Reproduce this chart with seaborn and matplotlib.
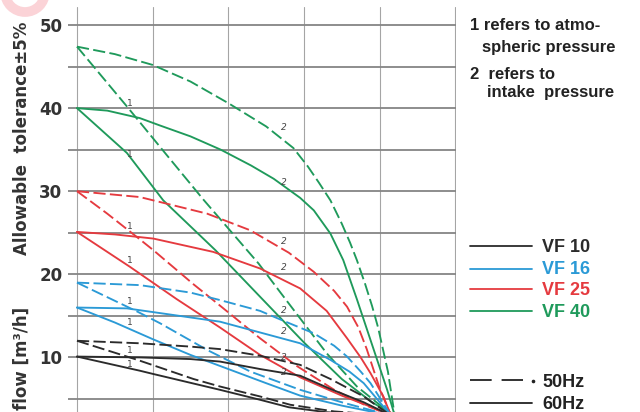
import matplotlib.pyplot as plt
import seaborn as sns
import pandas as pd
from matplotlib.lines import Line2D
from matplotlib.patches import Ellipse

# readings: x in grid columns (0..5), y = flow
# curve "1" = atmospheric, "2" = intake ; dashed = 50Hz, solid = 60Hz
vf40_50_2_x = [0, 0.5, 1.0, 1.5, 2.0, 2.5, 2.86, 3.05, 3.2, 3.35, 3.5, 3.61, 3.7, 3.81, 3.9, 3.98, 4.11, 4.2]
vf40_50_2_y = [47.4, 46.5, 45.2, 43.2, 40.6, 37.8, 35.2, 33.0, 31.0, 28.9, 26.1, 23.8, 21.7, 18.8, 16.2, 13.6, 8.3, 3.0]
vf40_60_2_x = [0, 0.4, 0.83, 1.1, 1.5, 1.9, 2.3, 2.6, 2.95, 3.13, 3.35, 3.52, 3.7, 3.92, 4.1, 4.2]
vf40_60_2_y = [40, 39.7, 38.8, 37.9, 36.6, 35.0, 33.1, 31.5, 29.2, 27.7, 24.9, 21.7, 17.0, 11.0, 6.1, 3.0]
vf40_50_1_x = [0, 0.66, 1.2, 1.67, 2.4, 2.69, 3.3, 3.7, 4.0, 4.2]
vf40_50_1_y = [47.4, 40.2, 34.2, 29.0, 21.3, 17.8, 10.5, 6.5, 4.3, 3.0]
vf40_60_1_x = [0, 0.66, 1.14, 1.83, 2.42, 3.0, 3.5, 3.9, 4.2]
vf40_60_1_y = [40, 34.6, 28.9, 22.9, 17.3, 11.8, 7.4, 4.6, 3.0]

vf25_50_2_x = [0, 0.83, 1.72, 2.29, 2.8, 3.13, 3.4, 3.57, 3.72, 3.83, 4.0, 4.15]
vf25_50_2_y = [30, 29.3, 27.3, 25.3, 22.6, 20.3, 18.0, 16.1, 13.6, 11.0, 6.3, 3.0]
vf25_60_2_x = [0, 0.5, 1.01, 1.8, 2.42, 2.95, 3.3, 3.57, 3.75, 3.88, 4.05, 4.15]
vf25_60_2_y = [25.1, 24.8, 24.3, 22.7, 20.7, 18.3, 15.6, 12.3, 10.0, 8.1, 5.3, 3.0]
vf25_50_1_x = [0, 0.4, 0.79, 1.01, 1.54, 1.8, 2.42, 2.9, 3.4, 3.8, 4.15]
vf25_50_1_y = [30, 27.3, 24.5, 22.9, 18.8, 16.9, 12.3, 9.0, 6.1, 4.3, 3.0]
vf25_60_1_x = [0, 0.7, 1.32, 1.89, 2.42, 2.95, 3.5, 3.9, 4.15]
vf25_60_1_y = [25.1, 20.9, 17.0, 13.6, 10.3, 7.6, 5.4, 4.0, 3.0]

vf16_50_2_x = [0, 0.83, 1.5, 1.89, 2.42, 2.73, 3.13, 3.4, 3.57, 3.75, 3.88, 4.15]
vf16_50_2_y = [19, 18.7, 17.8, 16.9, 15.6, 14.4, 12.9, 11.4, 10.1, 8.3, 6.9, 3.0]
vf16_60_2_x = [0, 0.66, 1.2, 1.89, 2.42, 2.95, 3.35, 3.6, 3.79, 4.15]
vf16_60_2_y = [16, 15.9, 15.2, 14.3, 13.0, 11.7, 9.7, 8.3, 6.9, 3.0]
vf16_50_1_x = [0, 0.8, 1.1, 1.72, 2.29, 2.95, 3.5, 4.15]
vf16_50_1_y = [19, 15.5, 14.1, 10.9, 8.3, 6.1, 4.6, 3.0]
vf16_60_1_x = [0, 0.5, 1.0, 1.5, 2.0, 2.5, 2.95, 3.5, 4.15]
vf16_60_1_y = [16, 14.2, 12.2, 10.3, 8.6, 6.9, 5.4, 4.2, 3.0]

vf10_50_2_x = [0, 0.83, 1.5, 1.89, 2.42, 2.95, 3.35, 3.79, 4.15]
vf10_50_2_y = [12, 11.7, 11.3, 11.0, 10.2, 9.1, 7.4, 5.3, 3.0]
vf10_60_2_x = [0, 0.83, 1.5, 1.89, 2.42, 2.95, 3.35, 3.79, 4.15]
vf10_60_2_y = [10.1, 10.0, 9.8, 9.5, 8.6, 7.8, 6.2, 4.6, 3.0]
vf10_50_1_x = [0, 0.8, 1.54, 1.89, 2.42, 2.82, 3.4, 4.15]
vf10_50_1_y = [12, 9.7, 7.4, 6.5, 5.3, 4.3, 3.5, 3.0]
vf10_60_1_x = [0, 0.83, 1.01, 1.89, 2.42, 2.8, 3.3, 4.15]
vf10_60_1_y = [10.1, 8.4, 8.0, 6.1, 4.9, 4.0, 3.4, 3.0]

# little "1" / "2" markers on the curves
label1_y = [40.5, 34.4, 25.7, 21.7, 16.7, 14.2, 10.8, 9.2]
label2_y = [37.7, 31.1, 23.9, 20.8, 15.7, 13.1, 10.0, 8.2]

models = ['VF 10', 'VF 16', 'VF 25', 'VF 40']
colors = ['#2b2b2b', '#2b9ad6', '#e53a3f', '#1f9a5b']
yticks = [5, 10, 15, 20, 25, 30, 35, 40, 45, 50]
ytick_labels = ['', '10', '', '20', '', '30', '', '40', '', '50']

curves = [
    ('VF 40', '50Hz', vf40_50_2_x, vf40_50_2_y), ('VF 40', '60Hz', vf40_60_2_x, vf40_60_2_y),
    ('VF 40', '50Hz', vf40_50_1_x, vf40_50_1_y), ('VF 40', '60Hz', vf40_60_1_x, vf40_60_1_y),
    ('VF 25', '50Hz', vf25_50_2_x, vf25_50_2_y), ('VF 25', '60Hz', vf25_60_2_x, vf25_60_2_y),
    ('VF 25', '50Hz', vf25_50_1_x, vf25_50_1_y), ('VF 25', '60Hz', vf25_60_1_x, vf25_60_1_y),
    ('VF 16', '50Hz', vf16_50_2_x, vf16_50_2_y), ('VF 16', '60Hz', vf16_60_2_x, vf16_60_2_y),
    ('VF 16', '50Hz', vf16_50_1_x, vf16_50_1_y), ('VF 16', '60Hz', vf16_60_1_x, vf16_60_1_y),
    ('VF 10', '50Hz', vf10_50_2_x, vf10_50_2_y), ('VF 10', '60Hz', vf10_60_2_x, vf10_60_2_y),
    ('VF 10', '50Hz', vf10_50_1_x, vf10_50_1_y), ('VF 10', '60Hz', vf10_60_1_x, vf10_60_1_y),
]

rows = []
for i, (model, freq, xs, ys) in enumerate(curves):
    for x, y in zip(xs, ys):
        rows.append({'x': x, 'y': y, 'model': model, 'freq': freq, 'curve': i})
df = pd.DataFrame(rows)

sns.set_style('white')
plt.rcParams['font.family'] = ['DejaVu Sans']

fig = plt.figure(figsize=(6.4, 4.12), dpi=100)
ax = fig.add_axes([68 / 640, 0, (456 - 68) / 640, (412 - 7) / 412])

sns.lineplot(data=df, x='x', y='y', hue='model', style='freq', units='curve',
             estimator=None, sort=False, palette=dict(zip(models, colors)),
             dashes={'50Hz': (6.5, 2.3), '60Hz': ''}, lw=1.35, legend=False, ax=ax)

for y in label1_y:
    ax.text(0.70, y, '1', fontsize=6.5, color='#444444', ha='center', va='center')
for y in label2_y:
    ax.text(2.74, y, '2', fontsize=6.5, color='#444444', ha='center', va='center',
            style='italic')

ax.set_xlim(-0.119, 5.01)
ax.set_ylim(3.43, 52.17)
ax.set_xticks([0, 1, 2, 3, 4, 5])
ax.set_xticklabels([])
ax.set_yticks(yticks)
ax.set_yticklabels(ytick_labels)
ax.tick_params(length=0, pad=4, labelsize=12, labelcolor='#333333')
for lab in ax.get_yticklabels():
    lab.set_fontweight('bold')
ax.grid(axis='y', color='#858585', lw=1.3)
ax.grid(axis='x', color='#a5a5a5', lw=0.8)
ax.set_axisbelow(True)
ax.set_xlabel('')
ax.set_ylabel('')
sns.despine(ax=ax, left=True, bottom=True)

# y axis titles (rotated, cut at the bottom like the source)
fig.text(22 / 640, 1 - 255 / 412, 'Allowable  tolerance±5%', rotation=90, ha='center',
         va='bottom', fontsize=12, fontweight='bold', color='#333333')
fig.text(22 / 640, 1 - 307 / 412, 'flow [m³/h]', rotation=90, ha='center', va='top',
         fontsize=12, fontweight='bold', color='#333333')

# notes at the top right
note_kw = dict(fontsize=12, fontweight='bold', color='#222222', family='Liberation Sans',
               va='baseline')
fig.text(470 / 640, 1 - 30 / 412, '1 refers to atmo-', **note_kw)
fig.text(482 / 640, 1 - 51.7 / 412, 'spheric pressure', **note_kw)
fig.text(470 / 640, 1 - 79 / 412, '2  refers to', **note_kw)
fig.text(487 / 640, 1 - 96.7 / 412, 'intake  pressure', **note_kw)

# hand-made legend
leg_line_y = [246, 269, 289, 310.5]
leg_text_y = [252.3, 274, 295, 316.7]
for m, c, ly, ty in zip(models, colors, leg_line_y, leg_text_y):
    fig.add_artist(Line2D([470 / 640, 532 / 640], [1 - ly / 412] * 2, color=c, lw=1.3))
    fig.text(542 / 640, 1 - ty / 412, m, fontsize=13, fontweight='bold',
             color=c, family='Liberation Sans', va='baseline')

fig.add_artist(Line2D([470 / 640, 523 / 640], [1 - 380 / 412] * 2, color='#222222',
                      lw=1.3, linestyle=(0, (12, 5.5))))
fig.add_artist(Line2D([533 / 640], [1 - 381 / 412], marker='o', ms=1.6, color='#222222', lw=0))
fig.text(542 / 640, 1 - 386.7 / 412, '50Hz', fontsize=13, fontweight='bold',
         color='#222222', family='Liberation Sans', va='baseline')
fig.add_artist(Line2D([470 / 640, 532 / 640], [1 - 402.7 / 412] * 2, color='#222222', lw=1.3))
fig.text(542 / 640, 1 - 409.3 / 412, '60Hz', fontsize=13, fontweight='bold',
         color='#222222', family='Liberation Sans', va='baseline')

# faint pink watermark ring in the corner
fig.add_artist(Ellipse((25 / 640, 1 + 8 / 412), 40 / 640, 40 / 412, fill=False,
                       lw=7, edgecolor='#fbd3d7', transform=fig.transFigure))

fig.savefig('out.png', dpi=100)
